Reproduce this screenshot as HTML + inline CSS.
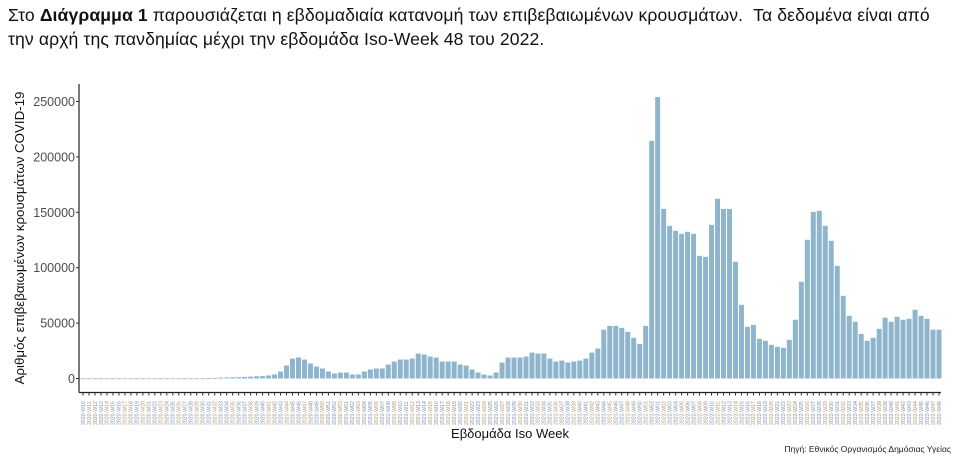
<!DOCTYPE html>
<html><head><meta charset="utf-8">
<style>
body{margin:0;width:971px;height:469px;background:#fff;overflow:hidden;font-family:"Liberation Sans","Noto Sans CJK SC",sans-serif;}
.hdr{position:absolute;left:8px;font-size:17.6px;color:#111;white-space:nowrap;letter-spacing:0.1px;}
</style></head><body>
<div class="hdr" style="top:5px;">Στο <b>Διάγραμμα 1</b> παρουσιάζεται η εβδομαδιαία κατανομή των επιβεβαιωμένων κρουσμάτων. &nbsp;Τα δεδομένα είναι από</div>
<div class="hdr" style="top:29px;">την αρχή της πανδημίας μέχρι την εβδομάδα Iso-Week 48 του 2022.</div>
<svg id="chart" width="971" height="469" style="position:absolute;left:0;top:0" xmlns="http://www.w3.org/2000/svg"></svg>
<script>
const values = [
100,100,100,100,100,100,100,100,100,100,100,100,100,100,100,100,100,100,100,100,200,200,300,
900,1000,1100,1200,1400,1700,2000,2200,2700,3600,6300,11700,18000,19000,17100,13500,10800,9000,
6300,4500,5400,5400,3600,3600,6300,8100,9000,9000,12600,15300,17100,17100,18000,22500,21600,19800,
18900,15300,15300,15300,12600,11700,8100,5400,3600,2700,5400,14400,18900,18900,18900,19800,23400,
22500,22500,18000,15300,16200,14400,15300,16200,18000,23400,27000,44000,47500,47500,45700,42100,
36700,31300,47500,214500,254000,153000,137800,133300,130600,132400,130600,110700,109800,138700,
162200,153000,153000,105300,66500,46600,48400,35800,34000,30400,28600,27700,34900,53000,87300,
125200,150400,151300,137800,124300,101700,74600,56600,51200,40300,34000,36700,44800,54800,51200,
55700,53000,53900,62000,56600,53900,44000,44000];
const yTicks = [0,50000,100000,150000,200000,250000];
const categories = [];
for (let w=10; w<=53; w++) categories.push('2020-W'+String(w).padStart(2,'0'));
for (let w=1; w<=52; w++) categories.push('2021-W'+String(w).padStart(2,'0'));
for (let w=1; w<=48; w++) categories.push('2022-W'+String(w).padStart(2,'0'));

const svg = document.getElementById('chart');
const NS = 'http://www.w3.org/2000/svg';
const x0 = 79, x1 = 941, y0 = 378.5, yTop = 101.5;
const n = values.length;
const step = (x1 - x0) / n;
const yScale = v => y0 - v / 250000 * (y0 - yTop);
const xScale = i => x0 + 1.5 + i * step;
function mk(tag, attrs){const e=document.createElementNS(NS,tag);for(const k in attrs)e.setAttribute(k,attrs[k]);svg.appendChild(e);return e;}

values.forEach((v,i)=>{
  const r = mk('rect',{x:xScale(i).toFixed(2),y:yScale(v).toFixed(2),width:(step-1).toFixed(2),height:Math.max(0.8,y0-yScale(v)).toFixed(2),fill:'#8fb5cc'});
  
  
});
const ya = mk('line',{x1:x0,y1:84,x2:x0,y2:392.5,stroke:'#222','stroke-width':1.2});


const xa = mk('line',{x1:x0,y1:392.5,x2:x1,y2:392.5,stroke:'#222','stroke-width':1.2});


yTicks.forEach(t=>{
  const y = yScale(t);
  const tk = mk('line',{x1:x0-3,y1:y,x2:x0,y2:y,stroke:'#333','stroke-width':1});
  
  
  const tx = mk('text',{x:x0-4,y:y+4.5,'text-anchor':'end','font-size':12.5,fill:'#4d4d4d','font-family':'Liberation Sans, sans-serif'});
  tx.textContent = t;
  
  
});
const cols = ['#7f90b8','#b89670','#909090'];
categories.forEach((c,i)=>{
  const cx = xScale(i) + (step-1)/2;
  const tk = mk('line',{x1:cx,y1:392.5,x2:cx,y2:395.5,stroke:'#333','stroke-width':1});
  
  
  const tx = mk('text',{x:0,y:0,transform:`translate(${cx+1.8},425) rotate(-90)`,'font-size':5.2,fill:cols[i%3],'font-family':'Liberation Sans, sans-serif'});
  tx.textContent = c;
  
  
});
const xt = mk('text',{x:510,y:438,'text-anchor':'middle','font-size':13,fill:'#111','font-family':'Liberation Sans, sans-serif'});
xt.textContent = 'Εβδομάδα Iso Week';


const yt = mk('text',{x:0,y:0,transform:'translate(24,238) rotate(-90)','text-anchor':'middle','font-size':13.3,fill:'#111','font-family':'Liberation Sans, sans-serif'});
yt.textContent = 'Αριθμός επιβεβαιωμένων κρουσμάτων COVID-19';


const src = mk('text',{x:951,y:452,'text-anchor':'end','font-size':8.5,fill:'#222','font-family':'Liberation Sans, sans-serif'});
src.textContent = 'Πηγή: Εθνικός Οργανισμός Δημόσιας Υγείας';


</script>
</body></html>
